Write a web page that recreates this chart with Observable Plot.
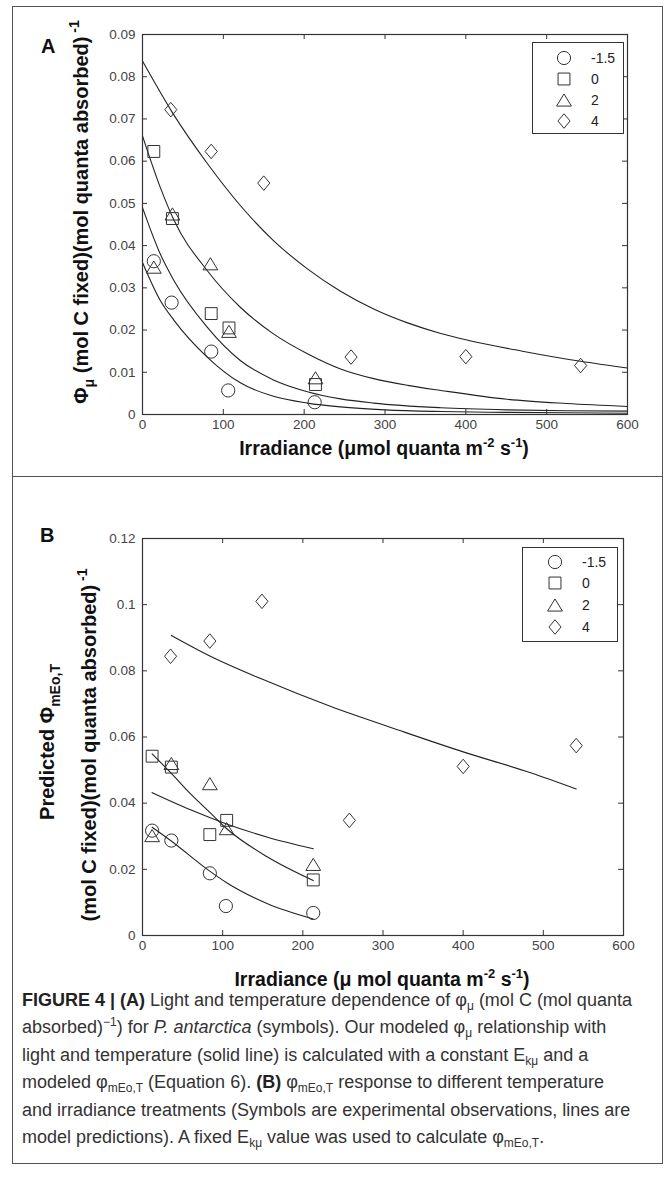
<!DOCTYPE html>
<html><head><meta charset="utf-8">
<script src="https://cdn.jsdelivr.net/npm/d3@7"></script>
<script src="https://cdn.jsdelivr.net/npm/@observablehq/plot@0.6"></script>
<style>
body{margin:0;background:#fff;}
#fig{position:relative;width:667px;height:1184px;overflow:hidden;background:#fff;}
.abs{position:absolute;}
.legend{position:absolute;border:1px solid #333;background:#fff;font-family:"Liberation Sans Narrow","Arial Narrow",sans-serif;font-size:14px;color:#222;}
.legend .row{position:absolute;height:20px;line-height:20px;}
.caption{position:absolute;left:22px;top:987px;width:640px;font-family:"Liberation Sans",Arial,sans-serif;font-size:18px;line-height:27.4px;color:#333;white-space:nowrap;}
.caption b{color:#222;}
.caption sub{font-size:12px;vertical-align:-4px;line-height:0;}
.caption sup{font-size:12px;vertical-align:7px;line-height:0;}
</style></head>
<body><div id="fig"></div>
<script>
// ---------- data ----------
const temps = ["-1.5", "0", "2", "4"];
// Panel A observations
const aX_m15 = [14, 36, 85, 106, 213];
const aY_m15 = [0.0363, 0.0265, 0.0149, 0.0057, 0.0029];
const aX_0 = [14, 37, 85, 107, 214];
const aY_0 = [0.0623, 0.0464, 0.0239, 0.0205, 0.0071];
const aX_2 = [14, 37, 84, 107, 214];
const aY_2 = [0.0349, 0.0475, 0.0357, 0.0197, 0.0087];
const aX_4 = [35, 85, 150, 258, 400, 542];
const aY_4 = [0.0722, 0.0623, 0.0548, 0.0136, 0.0137, 0.0116];
// Panel A model curves
const aLineX_m15 = [0, 22, 39, 80, 121, 162, 204, 245, 300, 370, 450, 525, 600];
const aLineY_m15 = [0.036, 0.027, 0.0223, 0.0136, 0.0075, 0.0043, 0.0027, 0.0018, 0.0011, 0.0007, 0.0005, 0.0004, 0.0003];
const aLineX_0 = [0, 22, 39, 80, 121, 162, 204, 245, 286, 369, 450, 525, 600];
const aLineY_0 = [0.049, 0.038, 0.0317, 0.0207, 0.0128, 0.0082, 0.0054, 0.0037, 0.0027, 0.0016, 0.0011, 0.0009, 0.0008];
const aLineX_2 = [0, 22, 39, 80, 121, 162, 204, 245, 286, 328, 369, 451, 525, 600];
const aLineY_2 = [0.066, 0.0538, 0.046, 0.0341, 0.0254, 0.0191, 0.0144, 0.0108, 0.0085, 0.0069, 0.0057, 0.0036, 0.0026, 0.0019];
const aLineX_4 = [0, 37, 80, 121, 162, 204, 245, 286, 328, 369, 400, 470, 542, 600];
const aLineY_4 = [0.0837, 0.0715, 0.0595, 0.0495, 0.0412, 0.0345, 0.0292, 0.025, 0.0217, 0.0192, 0.0177, 0.015, 0.0126, 0.011];
// Panel B observations
const bX_m15 = [12, 36, 84, 104, 213];
const bY_m15 = [0.0317, 0.0287, 0.0188, 0.0089, 0.0068];
const bX_0 = [12, 36, 84, 105, 213];
const bY_0 = [0.0542, 0.0509, 0.0305, 0.0348, 0.0168];
const bX_2 = [12, 36, 84, 105, 213];
const bY_2 = [0.0302, 0.052, 0.0459, 0.0323, 0.0215];
const bX_4 = [35, 84, 149, 258, 400, 541];
const bY_4 = [0.0844, 0.089, 0.101, 0.0348, 0.0511, 0.0574];
// Panel B model predictions
const bLineX_m15 = [12, 35, 83, 104, 156, 213];
const bLineY_m15 = [0.0327, 0.0287, 0.0196, 0.0161, 0.0096, 0.005];
const bLineX_0 = [12, 36, 60, 84, 104, 156, 213];
const bLineY_0 = [0.0549, 0.049, 0.0428, 0.0372, 0.0325, 0.0237, 0.0166];
const bLineX_2 = [12, 60, 104, 156, 213];
const bLineY_2 = [0.0432, 0.038, 0.0338, 0.0297, 0.0262];
const bLineX_4 = [36, 84, 149, 235, 318, 400, 484, 541];
const bLineY_4 = [0.0907, 0.0845, 0.0775, 0.0692, 0.0622, 0.0555, 0.0492, 0.0443];
// ticks
const xTicks = [0, 100, 200, 300, 400, 500, 600];
const aYTicks = [0, 0.01, 0.02, 0.03, 0.04, 0.05, 0.06, 0.07, 0.08, 0.09];
const bYTicks = [0, 0.02, 0.04, 0.06, 0.08, 0.1, 0.12];

// ---------- helpers ----------
const zip = (xs, ys, s) => xs.map((x, i) => ({x, y: ys[i], s}));
const sym = {
  circle: {draw(c, size){const r=Math.sqrt(size/Math.PI); c.moveTo(r,0); c.arc(0,0,r,0,2*Math.PI); c.closePath();}},
  square: {draw(c, size){const r=Math.sqrt(size/Math.PI)*0.9; c.rect(-r,-r,2*r,2*r);}},
  triangle: {draw(c, size){const r=Math.sqrt(size/Math.PI); const w=r*1.12, h=r*0.92; c.moveTo(0,-h); c.lineTo(w,h); c.lineTo(-w,h); c.closePath();}},
  diamond: {draw(c, size){const r=Math.sqrt(size/Math.PI); const w=r*0.92, h=r*1.1; c.moveTo(0,-h); c.lineTo(w,0); c.lineTo(0,h); c.lineTo(-w,0); c.closePath();}}
};
const symList = [sym.circle, sym.square, sym.triangle, sym.diamond];
const R = 6.6;

function panel({yDomain, yTicks, yFmt, width, height, mt, mb, ml, mr, pts, lines}) {
  const pw = width - ml - mr, ph = height - mt - mb;
  const marks = [
    Plot.line(lines, {x: "x", y: "y", z: "s", curve: "monotone-x", stroke: "#222", strokeWidth: 1.1}),
    ...pts.map((p, i) => Plot.dot(p, {x: "x", y: "y", r: R, symbol: symList[i], stroke: "#333", strokeWidth: 1, fill: "none"})),
    Plot.tickX(xTicks, {x: d => d, insetTop: ph - 5, stroke: "#333"}),
    Plot.tickX(xTicks, {x: d => d, insetBottom: ph - 5, stroke: "#333"}),
    Plot.tickY(yTicks, {y: d => d, insetRight: pw - 5, stroke: "#333"}),
    Plot.tickY(yTicks, {y: d => d, insetLeft: pw - 5, stroke: "#333"}),
    Plot.axisX({ticks: xTicks, tickSize: 0, tickPadding: 5, tickFormat: d => String(d), label: null}),
    Plot.axisY({ticks: yTicks, tickSize: 0, tickPadding: 7, tickFormat: yFmt, label: null}),
    Plot.frame({stroke: "#333", strokeWidth: 1.2})
  ];
  return Plot.plot({
    width, height, marginTop: mt, marginBottom: mb, marginLeft: ml, marginRight: mr,
    x: {domain: [0, 600]}, y: {domain: yDomain},
    style: {fontFamily: '"Liberation Sans Narrow","Arial Narrow",sans-serif', fontSize: "13.5px", color: "#444", background: "transparent"},
    marks
  });
}

const fig = document.getElementById("fig");

// frame
const frame = document.createElement("div");
frame.className = "abs";
Object.assign(frame.style, {left: "12px", top: "6px", width: "651px", height: "1158px", border: "1px solid #555", boxSizing: "border-box"});
fig.appendChild(frame);
const divider = document.createElement("div");
divider.className = "abs";
Object.assign(divider.style, {left: "12px", top: "476px", width: "651px", height: "0", borderTop: "1px solid #555"});
fig.appendChild(divider);

// Panel A
const plotA = panel({
  yDomain: [0, 0.09], yTicks: aYTicks, yFmt: d => d === 0 ? "0" : d.toFixed(2),
  width: 667, height: 470, mt: 34, mb: 56, ml: 142, mr: 40,
  pts: [zip(aX_m15, aY_m15, "-1.5"), zip(aX_0, aY_0, "0"), zip(aX_2, aY_2, "2"), zip(aX_4, aY_4, "4")],
  lines: [...zip(aLineX_m15, aLineY_m15, "-1.5"), ...zip(aLineX_0, aLineY_0, "0"), ...zip(aLineX_2, aLineY_2, "2"), ...zip(aLineX_4, aLineY_4, "4")]
});
plotA.style.position = "absolute"; plotA.style.left = "0px"; plotA.style.top = "0px";
fig.appendChild(plotA);

// Panel B
const plotB = panel({
  yDomain: [0, 0.12], yTicks: bYTicks, yFmt: d => d === 0 ? "0" : String(+d.toFixed(2)),
  width: 667, height: 490, mt: 58, mb: 35, ml: 142, mr: 44,
  pts: [zip(bX_m15, bY_m15, "-1.5"), zip(bX_0, bY_0, "0"), zip(bX_2, bY_2, "2"), zip(bX_4, bY_4, "4")],
  lines: [...zip(bLineX_m15, bLineY_m15, "-1.5"), ...zip(bLineX_0, bLineY_0, "0"), ...zip(bLineX_2, bLineY_2, "2"), ...zip(bLineX_4, bLineY_4, "4")]
});
plotB.style.position = "absolute"; plotB.style.left = "0px"; plotB.style.top = "480px";
fig.appendChild(plotB);

// legends
function legend(left, top, w, h, symX, labX, rowYs) {
  const el = document.createElement("div");
  el.className = "legend";
  Object.assign(el.style, {left: left + "px", top: top + "px", width: w + "px", height: h + "px"});
  temps.forEach((t, i) => {
    const path = d3.path();
    symList[i].draw(path, R * R * Math.PI);
    const s = document.createElementNS("http://www.w3.org/2000/svg", "svg");
    s.setAttribute("width", 20); s.setAttribute("height", 20);
    s.style.position = "absolute"; s.style.left = (symX - 10) + "px"; s.style.top = (rowYs[i] - 10) + "px";
    const p = document.createElementNS("http://www.w3.org/2000/svg", "path");
    p.setAttribute("d", path.toString()); p.setAttribute("transform", "translate(10,10)");
    p.setAttribute("fill", "none"); p.setAttribute("stroke", "#333");
    s.appendChild(p); el.appendChild(s);
    const lab = document.createElement("div");
    lab.className = "row"; lab.textContent = t;
    lab.style.left = labX + "px"; lab.style.top = (rowYs[i] - 10) + "px";
    el.appendChild(lab);
  });
  fig.appendChild(el);
}
legend(532, 42, 90, 90, 31, 58, [15, 36, 57, 78]);
legend(522, 547, 94, 93, 32, 59, [14, 35, 57, 79]);

// titles overlay
const NS = "http://www.w3.org/2000/svg";
const ov = document.createElementNS(NS, "svg");
ov.setAttribute("width", 667); ov.setAttribute("height", 1184);
ov.style.position = "absolute"; ov.style.left = "0"; ov.style.top = "0"; ov.style.pointerEvents = "none";
ov.innerHTML = `
<g font-family='"Liberation Sans Narrow","Arial Narrow",sans-serif' font-weight="bold" fill="#111">
  <text x="41" y="53" font-size="20" font-family="Liberation Sans, Arial, sans-serif">A</text>
  <text x="40" y="542" font-size="20" font-family="Liberation Sans, Arial, sans-serif">B</text>
  <text x="384" y="455" text-anchor="middle" font-size="19.5">Irradiance (μmol quanta m<tspan dy="-8" font-size="13">-2</tspan><tspan dy="8"> s</tspan><tspan dy="-8" font-size="13">-1</tspan><tspan dy="8">)</tspan></text>
  <text x="382" y="986" text-anchor="middle" font-size="19.5">Irradiance (μ mol quanta m<tspan dy="-8" font-size="13">-2</tspan><tspan dy="8"> s</tspan><tspan dy="-8" font-size="13">-1</tspan><tspan dy="8">)</tspan></text>
  <text transform="translate(88,212) rotate(-90)" text-anchor="middle" font-size="20">Φ<tspan dy="6" font-size="14">μ</tspan><tspan dy="-6"> (mol C fixed)(mol quanta absorbed)</tspan><tspan dy="-9" font-size="14"> -1</tspan></text>
  <text transform="translate(54,742) rotate(-90)" text-anchor="middle" font-size="20">Predicted Φ<tspan dy="6" font-size="14">mEo,T</tspan></text>
  <text transform="translate(96,745) rotate(-90)" text-anchor="middle" font-size="20">(mol C fixed)(mol quanta absorbed)<tspan dy="-9" font-size="14"> -1</tspan></text>
</g>`;
fig.appendChild(ov);

// caption
const cap = document.createElement("div");
cap.className = "caption";
cap.innerHTML = [
  '<b>FIGURE 4 | (A)</b> Light and temperature dependence of φ<sub>μ</sub> (mol C (mol quanta',
  'absorbed)<sup>−1</sup>) for <i>P. antarctica</i> (symbols). Our modeled φ<sub>μ</sub> relationship with',
  'light and temperature (solid line) is calculated with a constant E<sub>kμ</sub> and a',
  'modeled φ<sub>mEo,T</sub> (Equation 6). <b>(B)</b> φ<sub>mEo,T</sub> response to different temperature',
  'and irradiance treatments (Symbols are experimental observations, lines are',
  'model predictions). A fixed E<sub>kμ</sub> value was used to calculate φ<sub>mEo,T</sub>.'
].join('<br>');
fig.appendChild(cap);
</script>
</body></html>
